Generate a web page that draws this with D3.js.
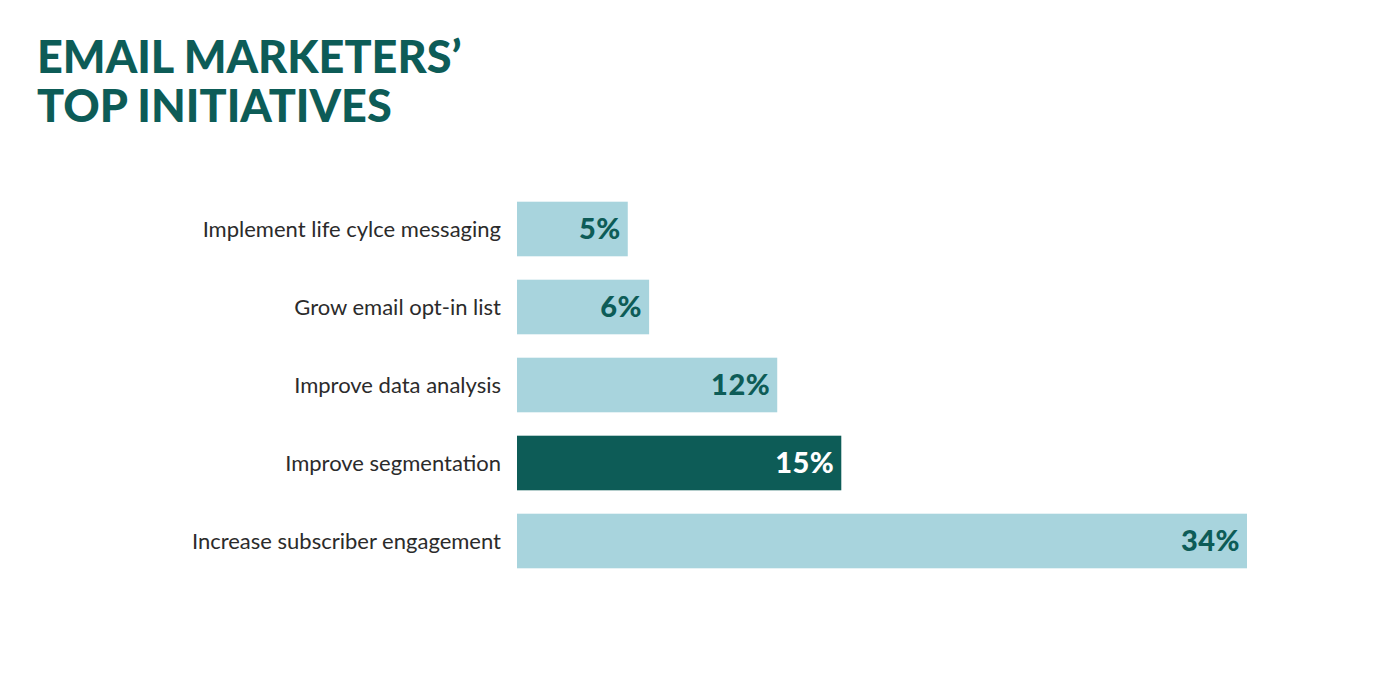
<!DOCTYPE html>
<html><head><meta charset="utf-8">
<script src="https://cdn.jsdelivr.net/npm/d3@7"></script>
<style>body{margin:0;background:#fff;} svg{display:block;}</style>
</head><body>
<svg id="chart" width="1381" height="693"></svg>
<script>
const categories = ["Implement life cylce messaging","Grow email opt-in list","Improve data analysis","Improve segmentation","Increase subscriber engagement"];
const values = [5, 6, 12, 15, 34];
const highlighted = [false, false, false, true, false];
const titleLines = ["EMAIL MARKETERS’", "TOP INITIATIVES"];

const svg = d3.select("#chart");
const dark = "#0d5c57", light = "#a8d4dd";

svg.append("g").selectAll("text").data(titleLines).join("text")
  .attr("x", 37).attr("y", (d,i)=>73 + i*49)
  .attr("font-family","Lato").attr("font-weight",900).attr("font-size",45)
  .attr("letter-spacing",0)
  .attr("fill", dark).text(d=>d);

const x = d3.scaleLinear().domain([0,34]).range([521,1247]);
const barStart = x(0) - 4;
const y = d3.scaleBand().domain(categories).range([190, 580]).paddingInner(0.3).paddingOuter(0.15);

const g = svg.append("g");
g.selectAll("rect").data(categories).join("rect")
  .attr("x", barStart).attr("y", d=>y(d))
  .attr("width", (d,i)=>x(values[i])-barStart).attr("height", y.bandwidth())
  .attr("fill", (d,i)=>highlighted[i]?dark:light);

g.selectAll("text.cat").data(categories).join("text").attr("class","cat")
  .attr("x", 501).attr("y", d=>y(d)+y.bandwidth()/2).attr("dy","0.35em")
  .attr("text-anchor","end").attr("font-family","Lato").attr("font-size",22)
  .attr("fill","#2b2b2b").text(d=>d);

g.selectAll("text.val").data(categories).join("text").attr("class","val")
  .attr("x", (d,i)=>x(values[i])-7).attr("y", d=>y(d)+y.bandwidth()/2).attr("dy","0.36em")
  .attr("text-anchor","end").attr("font-family","Lato").attr("font-weight",900).attr("font-size",29)
  .attr("letter-spacing",0.5)
  .attr("fill", (d,i)=>highlighted[i]?"#ffffff":dark).text((d,i)=>values[i]+"%");
</script>
</body></html>
